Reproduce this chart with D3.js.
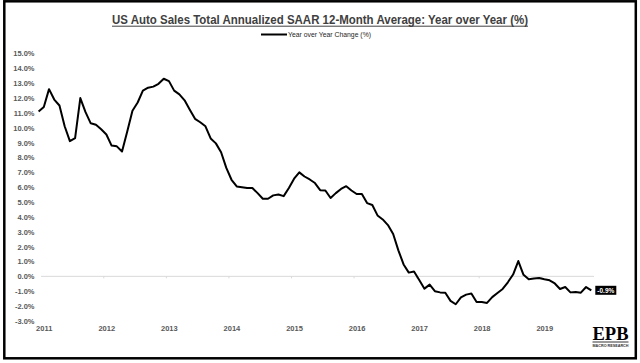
<!DOCTYPE html>
<html>
<head>
<meta charset="utf-8">
<script src="https://cdn.jsdelivr.net/npm/d3@7"></script>
<style>
  html, body { margin: 0; padding: 0; background: #fff; }
  svg { display: block; }
  text { font-family: "Liberation Sans", Arial, sans-serif; }
</style>
</head>
<body>
<div id="chart"></div>
<script>
// US auto sales SAAR, 12-month average, YoY % change (monthly)
var yoy = [
  11.1, 11.4, 12.6, 11.9, 11.5, 10.1, 9.1, 9.3, 12.0, 11.05, 10.3, 10.2,
  9.9, 9.55, 8.8, 8.75, 8.4, 9.75, 11.15, 11.7, 12.5, 12.7, 12.77, 12.96,
  13.3, 13.14, 12.5, 12.25, 11.85, 11.22, 10.6, 10.37, 10.1, 9.28, 8.95, 8.35,
  7.3, 6.5, 6.05, 6.0, 5.94, 5.94, 5.6, 5.22, 5.22, 5.45, 5.51, 5.4,
  5.95, 6.57, 7.0, 6.72, 6.52, 6.28, 5.8, 5.78, 5.27, 5.6, 5.88, 6.07,
  5.78, 5.54, 5.55, 4.93, 4.8, 4.1, 3.83, 3.45, 2.85, 1.75, 0.8, 0.25,
  0.32, -0.25, -0.83, -0.56, -1.0, -1.08, -1.1, -1.65, -1.88, -1.42, -1.23, -1.16,
  -1.73, -1.73, -1.79, -1.4, -1.12, -0.85, -0.4, 0.12, 1.03, 0.1, -0.2, -0.15,
  -0.11, -0.2, -0.27, -0.48, -0.85, -0.72, -1.08, -1.05, -1.1, -0.72, -0.94
];
var years = ["2011", "2012", "2013", "2014", "2015", "2016", "2017", "2018", "2019"];
var yTicks = [-3, -2, -1, 0, 1, 2, 3, 4, 5, 6, 7, 8, 9, 10, 11, 12, 13, 14, 15];
var title = "US Auto Sales Total Annualized SAAR 12-Month Average: Year over Year (%)";
var seriesName = "Year over Year Change (%)";
var lastLabel = "-0.9%";

var width = 640, height = 363;

var svg = d3.select("#chart").append("svg")
  .attr("width", width)
  .attr("height", height);

svg.append("rect")
  .attr("width", width).attr("height", height)
  .attr("fill", "#fff");

// outer frame
svg.append("rect")
  .attr("x", 4.3).attr("y", 1.3)
  .attr("width", 631.5).attr("height", 357)
  .attr("fill", "none")
  .attr("stroke", "#000")
  .attr("stroke-width", 2.5);

var x = d3.scaleLinear()
  .domain([0, yoy.length - 1])
  .range([38.6, 591.3]);

var y = d3.scaleLinear()
  .domain([-3, 15])
  .range([320.9, 53.5]);

// title
svg.append("text")
  .attr("x", 320).attr("y", 23.5)
  .attr("text-anchor", "middle")
  .attr("font-size", 13)
  .attr("font-weight", "bold")
  .attr("fill", "#404040")
  .attr("textLength", 416)
  .attr("lengthAdjust", "spacingAndGlyphs")
  .text(title);

svg.append("line")
  .attr("x1", 112).attr("x2", 528)
  .attr("y1", 26.2).attr("y2", 26.2)
  .attr("stroke", "#404040")
  .attr("stroke-width", 1);

// legend
svg.append("line")
  .attr("x1", 261).attr("x2", 287)
  .attr("y1", 34.5).attr("y2", 34.5)
  .attr("stroke", "#000")
  .attr("stroke-width", 2);
svg.append("text")
  .attr("x", 288).attr("y", 37)
  .attr("font-size", 7)
  .attr("fill", "#262626")
  .attr("textLength", 83)
  .attr("lengthAdjust", "spacingAndGlyphs")
  .text(seriesName);

// y axis labels
var yAxis = d3.axisLeft(y)
  .tickValues(yTicks)
  .tickSize(0)
  .tickPadding(0)
  .tickFormat(d => d.toFixed(1) + "%");

svg.append("g")
  .attr("transform", "translate(34.5,0)")
  .call(yAxis)
  .call(g => g.select(".domain").remove())
  .selectAll("text")
  .style("font-family", "Liberation Sans, Arial, sans-serif")
  .attr("font-size", 7.5)
  .attr("font-weight", "bold")
  .attr("fill", "#595959");

// zero line with year ticks
svg.append("line")
  .attr("x1", 41).attr("x2", 594)
  .attr("y1", y(0)).attr("y2", y(0))
  .attr("stroke", "#d9d9d9")
  .attr("stroke-width", 1);

var yearPos = years.map((d, i) => 12 * i + 0.5);

svg.append("g")
  .selectAll("line")
  .data(yearPos.slice(1))
  .join("line")
  .attr("x1", d => x(d)).attr("x2", d => x(d))
  .attr("y1", y(0)).attr("y2", y(0) + 2)
  .attr("stroke", "#d9d9d9");

// x axis labels
var xAxis = d3.axisBottom(x)
  .tickValues(yearPos)
  .tickSize(0)
  .tickPadding(0)
  .tickFormat((d, i) => years[i]);

svg.append("g")
  .attr("transform", "translate(2.5,326)")
  .call(xAxis)
  .call(g => g.select(".domain").remove())
  .selectAll("text")
  .style("font-family", "Liberation Sans, Arial, sans-serif")
  .attr("font-size", 7.5)
  .attr("font-weight", "bold")
  .attr("fill", "#595959");

// series line
var line = d3.line()
  .x((d, i) => x(i))
  .y(d => y(d));

svg.append("path")
  .datum(yoy)
  .attr("d", line)
  .attr("fill", "none")
  .attr("stroke", "#000")
  .attr("stroke-width", 2)
  .attr("stroke-linejoin", "round");

// last value tag
var lx = x(yoy.length - 1) + 4, ly = y(yoy[yoy.length - 1]);
svg.append("rect")
  .attr("x", lx).attr("y", ly - 4.5)
  .attr("width", 21).attr("height", 9)
  .attr("fill", "#000");
svg.append("text")
  .attr("x", lx + 10.5).attr("y", ly + 2.4)
  .attr("text-anchor", "middle")
  .attr("font-size", 6.5)
  .attr("font-weight", "bold")
  .attr("fill", "#fff")
  .text(lastLabel);

// EPB logo
svg.append("text")
  .attr("x", 592.5).attr("y", 339.5)
  .style("font-family", "'Liberation Serif', 'DejaVu Serif', serif")
  .attr("font-size", 19)
  .attr("font-weight", "bold")
  .attr("fill", "#000")
  .attr("textLength", 36)
  .attr("lengthAdjust", "spacingAndGlyphs")
  .text("EPB");
svg.append("line")
  .attr("x1", 592.5).attr("x2", 628.5)
  .attr("y1", 342).attr("y2", 342)
  .attr("stroke", "#000")
  .attr("stroke-width", 0.8);
svg.append("text")
  .attr("x", 592.5).attr("y", 347.3)
  .attr("font-size", 3.6)
  .attr("font-weight", "bold")
  .attr("fill", "#333")
  .attr("textLength", 36)
  .attr("lengthAdjust", "spacingAndGlyphs")
  .text("MACRO RESEARCH");
</script>
</body>
</html>
